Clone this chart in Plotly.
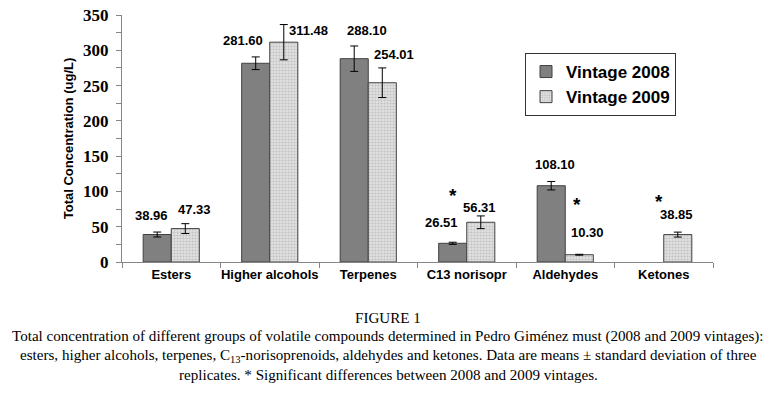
import plotly.graph_objects as go

# ---- data ----
categories = ["Esters", "Higher alcohols", "Terpenes", "C13 norisopr", "Aldehydes", "Ketones"]
vintage_2008 = [38.96, 281.60, 288.10, 26.51, 108.10, None]
vintage_2009 = [47.33, 311.48, 254.01, 56.31, 10.30, 38.85]
sd_2008 = [3.5, 9.0, 18.0, 1.5, 6.0, None]
sd_2009 = [7.0, 25.0, 21.0, 9.0, 0.6, 3.5]
significant = [False, False, False, True, True, True]
y_ticks = [0, 50, 100, 150, 200, 250, 300, 350]

# ---- style ----
AX = "#868686"
OUT = "#404040"
label_font = dict(family="Arial, Liberation Sans", size=13, color="#000")
# per-label placement tweaks (pixels): (xshift, yshift)
lab08 = [(-6, 17), (-13, 16), (13, 15), (-11, 20), (4, 16.5), (0, 0)]
lab09 = [(9, 14), (25, -5.5), (12, 13), (-1, 8), (8, 22), (-1, 18)]
star_off = {3: (-14, 20), 4: (12, 50), 5: (-5, 31)}
half = 14  # half bar width in px

fig = go.Figure()
fig.add_trace(go.Bar(
    name="Vintage 2008", x=categories, y=vintage_2008,
    marker=dict(color="#808080", line=dict(color=OUT, width=1)),
    error_y=dict(type="data", array=sd_2008, color="#000", thickness=1, width=4),
    legendgroup="a",
))
fig.add_trace(go.Bar(
    name="Vintage 2009", x=categories, y=vintage_2009,
    marker=dict(color="#d6d6d6", line=dict(color=OUT, width=1),
                pattern=dict(shape=".", fgcolor="#a4a4a4", bgcolor="#e0e0e0",
                             size=3, solidity=0.4)),
    error_y=dict(type="data", array=sd_2009, color="#000", thickness=1, width=4),
    legendgroup="b",
))

ann = []
for i, c in enumerate(categories):
    v, e = vintage_2008[i], sd_2008[i]
    if v is not None:
        dx, dy = lab08[i]
        ann.append(dict(x=c, y=v + e, xref="x", yref="y", text=f"<b>{v:.2f}</b>",
                        showarrow=False, xshift=-half + dx, yshift=dy,
                        yanchor="middle", font=label_font))
    v, e = vintage_2009[i], sd_2009[i]
    if v is not None:
        dx, dy = lab09[i]
        ann.append(dict(x=c, y=v + e, xref="x", yref="y", text=f"<b>{v:.2f}</b>",
                        showarrow=False, xshift=half + dx, yshift=dy,
                        yanchor="middle", font=label_font))
    if significant[i]:
        tops = [a + b for a, b in ((vintage_2008[i], sd_2008[i]), (vintage_2009[i], sd_2009[i]))
                if a is not None]
        top = max(tops) if i != 4 else vintage_2009[i] + sd_2009[i]
        dx, dy = star_off[i]
        ann.append(dict(x=c, y=top, xref="x", yref="y", text="<b>*</b>",
                        showarrow=False, xshift=dx, yshift=dy, yanchor="middle",
                        font=dict(family="Arial, Liberation Sans", size=19, color="#000")))

# page has an 8px body margin; figure coordinates are page coordinates minus 8
W, H = 768, 378
L, R, T, B = 114, 705, 7, 254
cap_font = dict(family="Liberation Serif, Times New Roman", size=15.1, color="#000")
caption = [
    ("FIGURE 1", 310),
    ("Total concentration of different groups of volatile compounds determined in Pedro Giménez must (2008 and 2009 vintages):", 328),
    ("esters, higher alcohols, terpenes, C<sub>13</sub>-norisoprenoids, aldehydes and ketones. Data are means ± standard deviation of three", 348),
    ("replicates. * Significant differences between 2008 and 2009 vintages.", 367),
]
for txt, py in caption:
    ann.append(dict(x=(380 - L) / (R - L), xref="paper", xanchor="center",
                    y=(B - py) / (B - T), yref="paper", yanchor="middle",
                    text=txt, showarrow=False, font=cap_font))

fig.update_layout(
    width=W, height=H,
    margin=dict(l=L, r=W - R, t=T, b=H - B, pad=0, autoexpand=False),
    paper_bgcolor="white", plot_bgcolor="white",
    barmode="group", bargap=0.43, bargroupgap=0,
    showlegend=True,
    legend=dict(x=(517 - L) / (R - L), y=(B - 45) / (B - T), xanchor="left", yanchor="top",
                bordercolor="#333", borderwidth=1, bgcolor="white",
                font=dict(family="Arial, Liberation Sans", size=17, color="#000", weight="bold"),
                tracegroupgap=0, itemwidth=30),
    annotations=ann,
    xaxis=dict(showline=True, linecolor=AX, linewidth=1, ticks="outside",
               tickson="boundaries", ticklen=5, tickcolor=AX, tickangle=0, automargin=False,
               tickfont=dict(family="Arial, Liberation Sans", size=13, color="#000", weight="bold"),
               showgrid=False, zeroline=False),
    yaxis=dict(range=[0, 350], tickvals=y_ticks, showline=True, linecolor=AX, linewidth=1,
               ticks="outside", ticklen=5, tickcolor=AX, automargin=False, ticklabelstandoff=4,
               ticklabeloverflow="allow",
               minor=dict(dtick=25, ticks="outside", ticklen=5, tickcolor=AX),
               tickfont=dict(family="Liberation Serif, Times New Roman", size=17, color="#000",
                             weight="bold"),
               title=dict(text="<b>Total Concentration (ug/L)</b>", standoff=6,
                          font=dict(family="Arial, Liberation Sans", size=13, color="#000")),
               showgrid=False, zeroline=False),
)

fig.write_html("out.html")
